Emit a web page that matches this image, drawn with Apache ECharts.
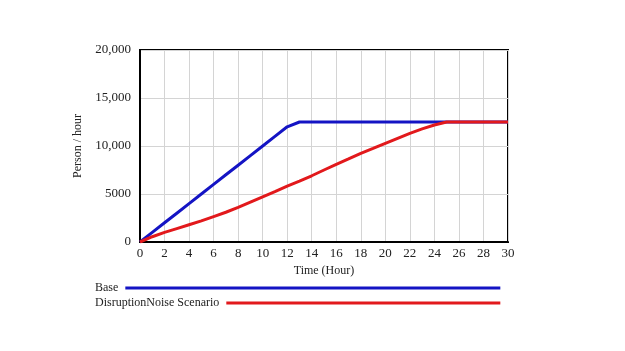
<!DOCTYPE html>
<html>
<head>
<meta charset="utf-8">
<script src="https://cdn.jsdelivr.net/npm/echarts@6/dist/echarts.min.js"></script>
<style>
  html, body { margin: 0; padding: 0; background: #fff; }
  #main { width: 625px; height: 351px; }
</style>
</head>
<body>
<div id="main"></div>
<script>
  var hours = [0, 1, 2, 3, 4, 5, 6, 7, 8, 9, 10, 11, 12, 13, 14, 15, 16, 17, 18, 19, 20, 21, 22, 23, 24, 25, 26, 27, 28, 29, 30];
  var baseValues = [0, 1000, 2000, 3000, 4000, 5000, 6000, 7000, 8000, 9000, 10000, 11000, 12000, 12500, 12500, 12500, 12500, 12500, 12500, 12500, 12500, 12500, 12500, 12500, 12500, 12500, 12500, 12500, 12500, 12500, 12500];
  var noiseValues = [0, 550, 1000, 1400, 1800, 2200, 2650, 3100, 3600, 4150, 4700, 5250, 5830, 6350, 6900, 7500, 8090, 8650, 9240, 9750, 10280, 10800, 11320, 11780, 12190, 12500, 12500, 12500, 12500, 12500, 12500];
  var seriesNames = ['Base', 'DisruptionNoise Scenario'];
  var colors = ['#1414c4', '#e2191c'];

  var font = 'Liberation Serif';
  var myChart = echarts.init(document.getElementById('main'));

  function pairs(vals) {
    return hours.map(function (h, i) { return [h, vals[i]]; });
  }

  var option = {
    animation: false,
    backgroundColor: '#fff',
    grid: {
      left: 140, top: 50, right: 117, bottom: 109,
      show: true, borderColor: '#000', borderWidth: 2
    },
    legend: [
      {
        data: [seriesNames[0]],
        left: 90, top: 277,
        align: 'right',
        icon: 'rect',
        itemWidth: 375, itemHeight: 3,
        itemGap: 0,
        textStyle: { fontFamily: font, fontSize: 12, color: '#222', padding: [0, 2, 0, 0] }
      },
      {
        data: [seriesNames[1]],
        left: 90, top: 292,
        align: 'right',
        icon: 'rect',
        itemWidth: 274, itemHeight: 3,
        itemGap: 0,
        textStyle: { fontFamily: font, fontSize: 12, color: '#222', padding: [0, 2, 0, 0] }
      }
    ],
    xAxis: {
      type: 'value',
      min: 0, max: 30, interval: 2,
      name: 'Time (Hour)',
      nameLocation: 'middle',
      nameGap: 22,
      nameTextStyle: { fontFamily: font, fontSize: 12, color: '#222' },
      axisLine: { lineStyle: { color: '#000', width: 2 } },
      axisTick: { show: false },
      axisLabel: { fontFamily: font, fontSize: 13, color: '#222', margin: 5 },
      splitLine: { lineStyle: { color: '#d4d4d4', width: 1 } }
    },
    yAxis: {
      type: 'value',
      min: 0, max: 20000, interval: 5000,
      name: 'Person / hour',
      nameLocation: 'middle',
      nameGap: 56,
      nameTextStyle: { fontFamily: font, fontSize: 12, color: '#222' },
      axisLine: { show: true, lineStyle: { color: '#000', width: 2 } },
      axisTick: { show: false },
      axisLabel: {
        fontFamily: font, fontSize: 13, color: '#222', margin: 9,
        formatter: function (v) {
          return v >= 10000 ? v.toLocaleString('en-US') : String(v);
        }
      },
      splitLine: { lineStyle: { color: '#d4d4d4', width: 1 } }
    },
    series: [
      {
        name: seriesNames[0],
        type: 'line',
        data: pairs(baseValues),
        showSymbol: false,
        color: colors[0],
        lineStyle: { width: 3, color: colors[0] },
        z: 2
      },
      {
        name: seriesNames[1],
        type: 'line',
        data: pairs(noiseValues),
        showSymbol: false,
        color: colors[1],
        lineStyle: { width: 3, color: colors[1] },
        z: 3
      }
    ]
  };

  myChart.setOption(option);
</script>
</body>
</html>
